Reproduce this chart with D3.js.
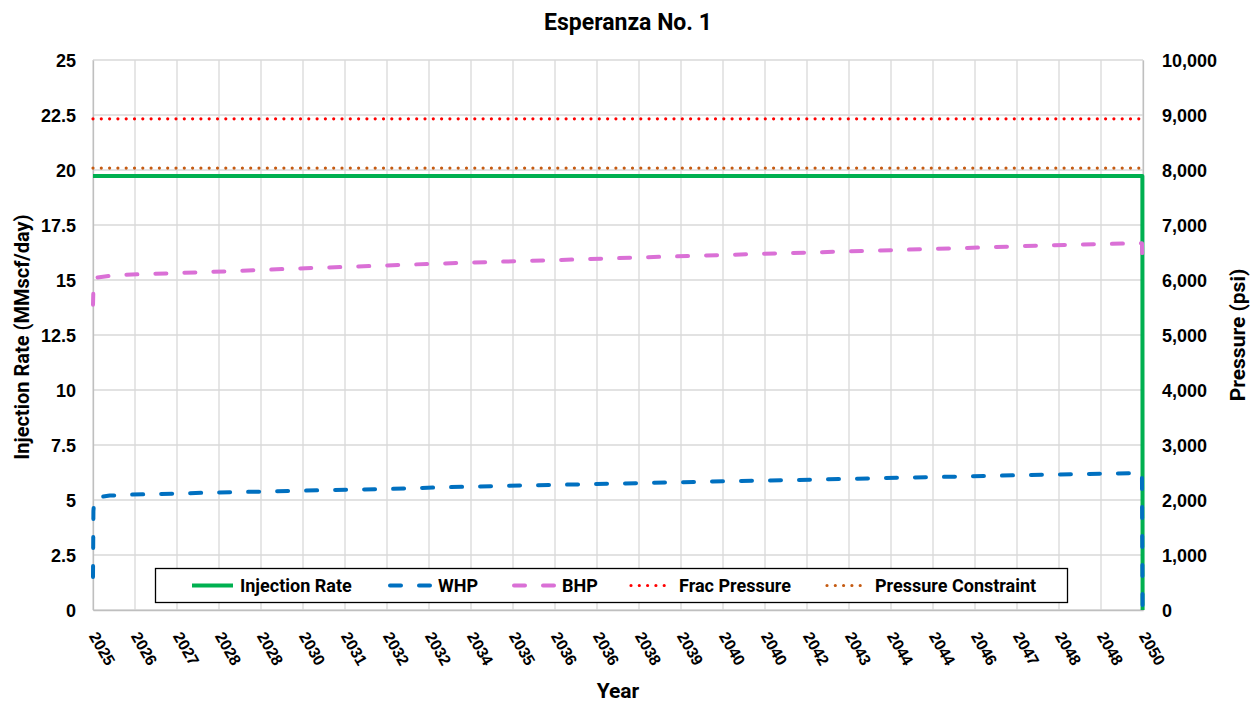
<!DOCTYPE html>
<html>
<head>
<meta charset="utf-8">
<script src="https://cdn.jsdelivr.net/npm/d3@7/dist/d3.min.js"></script>
<style>
  html, body { margin: 0; padding: 0; background: #fff; }
  svg { display: block; }
</style>
</head>
<body>
<svg id="chart" width="1255" height="703"></svg>
<script>
// ---- Data (time in years since start of injection) ----
const yearLabels = ["2025","2026","2027","2028","2028","2030","2031","2032","2032","2034",
  "2035","2036","2036","2038","2039","2040","2040","2042","2043","2044",
  "2044","2046","2047","2048","2048","2050"];

const rateYears = [0, 24.985, 24.99];
const rateValues = [19.73, 19.73, 0];          // MMscf/day

const whpYears = [0, 0.01, 0.03, 0.1, 0.4, 0.88, 1.55, 2.83, 4.17, 5.5, 6.9, 8.26, 9.7,
  11.0, 12.4, 13.8, 15.2, 16.8, 18.2, 19.5, 20.9, 22.3, 23.6, 24.9, 24.975, 24.99];
const whpValues = [600, 1800, 2000, 2045, 2080, 2097, 2109, 2135, 2155, 2178, 2197, 2230, 2255,
  2275, 2298, 2320, 2343, 2364, 2388, 2410, 2430, 2455, 2473, 2490, 2492, 0];   // psi

const bhpYears = [0, 0.01, 0.03, 0.1, 0.57, 1.31, 2.02, 3.4, 4.76, 6.19, 7.5, 8.88, 10.26,
  11.62, 13.07, 14.45, 15.81, 17.19, 18.57, 19.93, 21.31, 22.67, 24.12, 24.975, 24.99];
const bhpValues = [5550, 5850, 6000, 6045, 6091, 6109, 6127, 6164, 6206, 6242, 6279, 6315, 6345,
  6376, 6412, 6442, 6473, 6503, 6533, 6564, 6594, 6630, 6655, 6670, 6230];   // psi

const fracPressure = 8930;        // psi
const pressureConstraint = 8035;  // psi

const leftTicks = [0, 2.5, 5, 7.5, 10, 12.5, 15, 17.5, 20, 22.5, 25];
const rightTicks = [0, 1000, 2000, 3000, 4000, 5000, 6000, 7000, 8000, 9000, 10000];

// ---- Layout ----
const svg = d3.select("#chart");
const plot = { left: 93, right: 1143, top: 60, bottom: 610 };

const x = d3.scaleLinear().domain([0, 25]).range([plot.left, plot.right]);
const yL = d3.scaleLinear().domain([0, 25]).range([plot.bottom, plot.top]);
const yR = d3.scaleLinear().domain([0, 10000]).range([plot.bottom, plot.top]);

const tickFont = "'Liberation Sans', Arial, sans-serif";
const labelFont = "Roboto, 'Liberation Sans', sans-serif";
const gridColor = "#d9d9d9";

// Gridlines
const grid = svg.append("g");
grid.selectAll("line.h").data(leftTicks).join("line")
  .attr("x1", plot.left).attr("x2", plot.right)
  .attr("y1", d => yL(d)).attr("y2", d => yL(d))
  .attr("stroke", gridColor).attr("stroke-width", 1.3);
grid.selectAll("line.v").data(d3.range(yearLabels.length)).join("line")
  .attr("x1", d => x(d)).attr("x2", d => x(d))
  .attr("y1", plot.top).attr("y2", plot.bottom)
  .attr("stroke", gridColor).attr("stroke-width", 1.3);

// Axes
const leftAxis = svg.append("g")
  .attr("transform", `translate(${plot.left},0)`)
  .call(d3.axisLeft(yL).tickValues(leftTicks).tickSize(0).tickPadding(17)
    .tickFormat(d => String(d)));
const rightAxis = svg.append("g")
  .attr("transform", `translate(${plot.right},0)`)
  .call(d3.axisRight(yR).tickValues(rightTicks).tickSize(0).tickPadding(19)
    .tickFormat(d3.format(",")));
const bottomAxis = svg.append("g")
  .attr("transform", `translate(0,${plot.bottom})`)
  .call(d3.axisBottom(x).tickValues(d3.range(yearLabels.length)).tickSize(0)
    .tickFormat(i => yearLabels[i]));

[leftAxis, rightAxis, bottomAxis].forEach(a => {
  a.select(".domain").attr("stroke", "#bfbfbf").attr("stroke-width", 1.3);
  a.selectAll("text").attr("font-family", tickFont).attr("font-weight", "bold")
    .attr("font-size", 18).attr("fill", "#000");
});
leftAxis.selectAll("text").attr("dy", "0.35em");
rightAxis.selectAll("text").attr("dy", "0.35em");
bottomAxis.selectAll("text")
  .attr("font-size", 16)
  .attr("text-anchor", "start")
  .attr("y", 0).attr("dy", 0)
  .attr("transform", "translate(-5,26) rotate(60)");

// Series lines
const lineL = d3.line().x(d => x(d[0])).y(d => yL(d[1]));
const lineR = d3.line().x(d => x(d[0])).y(d => yR(d[1]));

const series = [
  { name: "Injection Rate", color: "#00b050", width: 4, dash: null, cap: "butt",
    pts: d3.zip(rateYears, rateValues), line: lineL },
  { name: "WHP", color: "#0070c0", width: 4, dash: "11,18", cap: "round",
    pts: d3.zip(whpYears, whpValues), line: lineR },
  { name: "BHP", color: "#da70d6", width: 4, dash: "11,18", cap: "round",
    pts: d3.zip(bhpYears, bhpValues), line: lineR },
  { name: "Frac Pressure", color: "#ff0000", width: 3.2, dash: "0,8.3", cap: "round",
    pts: [[0, fracPressure], [25, fracPressure]], line: lineR },
  { name: "Pressure Constraint", color: "#c55a11", width: 3.2, dash: "0,8.3", cap: "round",
    pts: [[0, pressureConstraint], [25, pressureConstraint]], line: lineR }
];

series.forEach(s => {
  svg.append("path")
    .attr("d", s.line(s.pts))
    .attr("fill", "none")
    .attr("stroke", s.color)
    .attr("stroke-width", s.width)
    .attr("stroke-linecap", s.cap)
    .attr("stroke-linejoin", "round")
    .attr("stroke-dasharray", s.dash);
});

// Legend
const legend = svg.append("g");
legend.append("rect")
  .attr("x", 155.5).attr("y", 568.5).attr("width", 912).attr("height", 34)
  .attr("fill", "#fff").attr("stroke", "#000").attr("stroke-width", 1.3);
const legendX = [192, 390, 514, 631, 827];
series.forEach((s, i) => {
  const sx = legendX[i];
  legend.append("line")
    .attr("x1", sx).attr("x2", sx + 41).attr("y1", 585.5).attr("y2", 585.5)
    .attr("stroke", s.color).attr("stroke-width", s.width)
    .attr("stroke-linecap", s.cap).attr("stroke-dasharray", s.dash);
  legend.append("text")
    .attr("x", sx + 48).attr("y", 585.5).attr("dy", "0.36em")
    .attr("font-family", labelFont).attr("font-weight", "bold").attr("font-size", 18)
    .text(s.name);
});

// Titles
svg.append("text")
  .attr("x", 628).attr("y", 22).attr("dy", "0.36em").attr("text-anchor", "middle")
  .attr("font-family", labelFont).attr("font-weight", "bold").attr("font-size", 23)
  .text("Esperanza No. 1");
svg.append("text")
  .attr("transform", "translate(22,337) rotate(-90)")
  .attr("text-anchor", "middle").attr("dy", "0.36em")
  .attr("font-family", labelFont).attr("font-weight", "bold").attr("font-size", 20)
  .text("Injection Rate (MMscf/day)");
svg.append("text")
  .attr("transform", "translate(1237,335) rotate(-90)")
  .attr("text-anchor", "middle").attr("dy", "0.36em")
  .attr("font-family", labelFont).attr("font-weight", "bold").attr("font-size", 21)
  .text("Pressure (psi)");
svg.append("text")
  .attr("x", 618).attr("y", 690).attr("dy", "0.36em").attr("text-anchor", "middle")
  .attr("font-family", labelFont).attr("font-weight", "bold").attr("font-size", 21)
  .text("Year");
</script>
</body>
</html>
